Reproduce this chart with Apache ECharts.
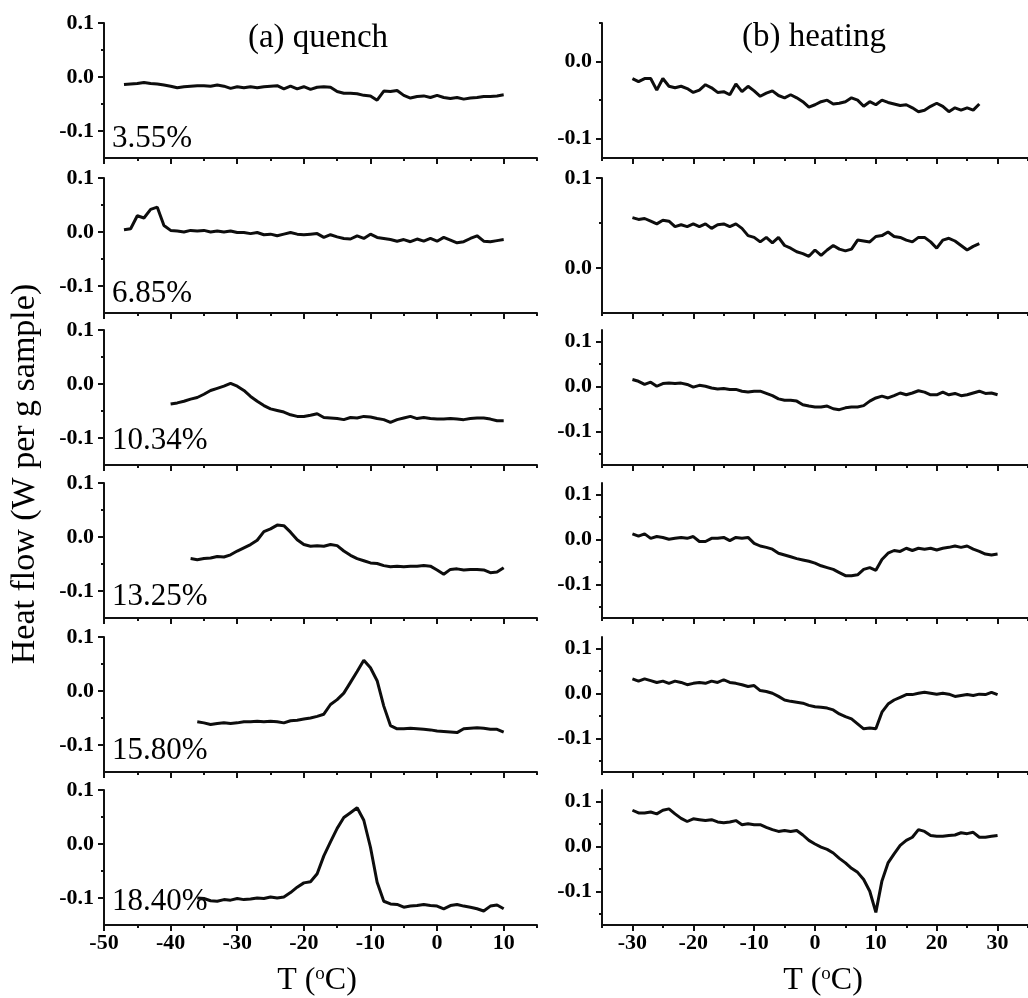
<!DOCTYPE html>
<html><head><meta charset="utf-8">
<script src="https://cdn.jsdelivr.net/npm/echarts@6/dist/echarts.min.js"></script>
<style>html,body{margin:0;padding:0;background:#fff}#c{width:1028px;height:998px}</style>
</head><body><div id="c"></div><script>
// ---------- DATA ----------
const tempQuench = [-47,-46,-45,-44,-43,-42,-41,-40,-39,-38,
  -37,-36,-35,-34,-33,-32,-31,-30,-29,-28,
  -27,-26,-25,-24,-23,-22,-21,-20,-19,-18,
  -17,-16,-15,-14,-13,-12,-11,-10,-9,-8,
  -7,-6,-5,-4,-3,-2,-1,0,1,2,
  3,4,5,6,7,8,9,10];
const tempHeating = [-30,-29,-28,-27,-26,-25,-24,-23,-22,-21,
  -20,-19,-18,-17,-16,-15,-14,-13,-12,-11,
  -10,-9,-8,-7,-6,-5,-4,-3,-2,-1,
  0,1,2,3,4,5,6,7,8,9,
  10,11,12,13,14,15,16,17,18,19,
  20,21,22,23,24,25,26,27,28,29,
  30];

const quench355 = [-0.014,-0.013,-0.012,-0.010,-0.012,-0.013,-0.015,-0.017,-0.020,-0.018,
  -0.017,-0.016,-0.016,-0.017,-0.015,-0.017,-0.021,-0.018,-0.020,-0.018,
  -0.020,-0.018,-0.017,-0.016,-0.022,-0.017,-0.022,-0.018,-0.023,-0.019,
  -0.018,-0.019,-0.027,-0.030,-0.030,-0.031,-0.034,-0.035,-0.043,-0.026,
  -0.027,-0.025,-0.034,-0.039,-0.036,-0.035,-0.038,-0.034,-0.038,-0.040,
  -0.038,-0.041,-0.039,-0.038,-0.036,-0.036,-0.035,-0.033];
const quench685 = [0.004,0.006,0.030,0.026,0.042,0.046,0.012,0.003,0.002,0.000,
  0.003,0.002,0.003,0.000,0.002,0.000,0.002,-0.001,-0.001,-0.003,
  -0.001,-0.005,-0.004,-0.007,-0.004,-0.001,-0.004,-0.005,-0.004,-0.003,
  -0.010,-0.005,-0.009,-0.012,-0.013,-0.007,-0.012,-0.004,-0.010,-0.012,
  -0.014,-0.017,-0.014,-0.018,-0.013,-0.017,-0.012,-0.017,-0.010,-0.015,
  -0.020,-0.018,-0.012,-0.007,-0.017,-0.018,-0.016,-0.014];
const quench1034 = [null,null,null,null,null,null,null,-0.037,-0.035,-0.032,
  -0.028,-0.025,-0.019,-0.012,-0.008,-0.004,0.001,-0.004,-0.012,-0.023,
  -0.032,-0.040,-0.046,-0.049,-0.052,-0.057,-0.060,-0.060,-0.058,-0.055,
  -0.062,-0.063,-0.064,-0.066,-0.062,-0.063,-0.060,-0.061,-0.064,-0.066,
  -0.071,-0.066,-0.063,-0.060,-0.064,-0.062,-0.064,-0.065,-0.065,-0.064,
  -0.065,-0.066,-0.064,-0.063,-0.063,-0.065,-0.068,-0.068];
const quench1325 = [null,null,null,null,null,null,null,null,null,null,
  -0.040,-0.042,-0.040,-0.039,-0.036,-0.037,-0.033,-0.026,-0.020,-0.014,
  -0.006,0.010,0.015,0.022,0.021,0.009,-0.005,-0.014,-0.017,-0.016,
  -0.017,-0.014,-0.016,-0.026,-0.034,-0.040,-0.044,-0.048,-0.049,-0.053,
  -0.055,-0.054,-0.055,-0.054,-0.054,-0.053,-0.054,-0.061,-0.069,-0.060,
  -0.059,-0.061,-0.060,-0.060,-0.061,-0.066,-0.065,-0.057];
const quench1580 = [null,null,null,null,null,null,null,null,null,null,
  null,-0.057,-0.059,-0.062,-0.060,-0.059,-0.060,-0.059,-0.057,-0.057,
  -0.056,-0.057,-0.056,-0.057,-0.059,-0.055,-0.054,-0.052,-0.050,-0.047,
  -0.043,-0.025,-0.016,-0.004,0.016,0.036,0.057,0.043,0.019,-0.028,
  -0.064,-0.070,-0.070,-0.069,-0.070,-0.071,-0.072,-0.074,-0.075,-0.076,
  -0.077,-0.070,-0.069,-0.068,-0.069,-0.071,-0.071,-0.076];
const quench1840 = [null,null,null,null,null,null,null,null,null,null,
  null,-0.100,-0.101,-0.105,-0.106,-0.103,-0.104,-0.101,-0.103,-0.102,
  -0.100,-0.101,-0.098,-0.100,-0.098,-0.090,-0.080,-0.072,-0.070,-0.055,
  -0.022,0.004,0.029,0.049,0.058,0.067,0.044,-0.006,-0.071,-0.106,
  -0.111,-0.112,-0.117,-0.115,-0.114,-0.112,-0.114,-0.115,-0.120,-0.114,
  -0.112,-0.115,-0.117,-0.120,-0.124,-0.115,-0.113,-0.120];

const heating355 = [-0.022,-0.026,-0.022,-0.022,-0.037,-0.022,-0.032,-0.034,-0.032,-0.035,
  -0.040,-0.037,-0.030,-0.034,-0.040,-0.039,-0.043,-0.029,-0.039,-0.032,
  -0.038,-0.045,-0.041,-0.038,-0.044,-0.047,-0.043,-0.047,-0.052,-0.059,
  -0.056,-0.052,-0.050,-0.055,-0.054,-0.052,-0.047,-0.050,-0.058,-0.052,
  -0.056,-0.050,-0.053,-0.055,-0.057,-0.056,-0.060,-0.065,-0.063,-0.058,
  -0.054,-0.058,-0.065,-0.060,-0.063,-0.060,-0.063,-0.055,null,null,
  null];
const heating685 = [0.056,0.054,0.055,0.052,0.049,0.053,0.052,0.046,0.048,0.046,
  0.049,0.046,0.049,0.044,0.048,0.049,0.046,0.049,0.044,0.036,
  0.034,0.029,0.034,0.028,0.034,0.025,0.022,0.018,0.016,0.013,
  0.020,0.014,0.020,0.025,0.021,0.019,0.021,0.031,0.030,0.029,
  0.035,0.036,0.040,0.035,0.034,0.031,0.029,0.034,0.034,0.029,
  0.022,0.031,0.033,0.030,0.025,0.020,0.024,0.027,null,null,
  null];
const heating1034 = [0.015,0.011,0.004,0.009,0.000,0.006,0.007,0.006,0.007,0.004,
  -0.002,0.002,0.000,-0.004,-0.006,-0.005,-0.007,-0.007,-0.011,-0.013,
  -0.011,-0.011,-0.016,-0.021,-0.028,-0.031,-0.031,-0.033,-0.041,-0.044,
  -0.046,-0.046,-0.044,-0.050,-0.052,-0.048,-0.046,-0.046,-0.043,-0.033,
  -0.026,-0.022,-0.026,-0.021,-0.015,-0.019,-0.015,-0.010,-0.013,-0.019,
  -0.019,-0.013,-0.019,-0.016,-0.021,-0.019,-0.015,-0.011,-0.016,-0.015,
  -0.019];
const heating1325 = [0.012,0.007,0.012,0.002,0.006,0.004,0.000,0.002,0.004,0.002,
  0.006,-0.005,-0.005,0.002,0.002,0.004,-0.003,0.004,0.002,0.004,
  -0.009,-0.015,-0.018,-0.022,-0.031,-0.035,-0.039,-0.043,-0.046,-0.049,
  -0.053,-0.059,-0.063,-0.067,-0.074,-0.081,-0.081,-0.079,-0.067,-0.063,
  -0.069,-0.045,-0.031,-0.025,-0.027,-0.020,-0.025,-0.020,-0.022,-0.020,
  -0.024,-0.020,-0.018,-0.015,-0.018,-0.015,-0.022,-0.027,-0.033,-0.035,
  -0.033];
const heating1580 = [0.032,0.027,0.032,0.028,0.024,0.027,0.022,0.027,0.024,0.019,
  0.022,0.024,0.022,0.027,0.024,0.030,0.024,0.022,0.019,0.015,
  0.017,0.006,0.004,0.000,-0.007,-0.015,-0.018,-0.020,-0.022,-0.027,
  -0.030,-0.031,-0.033,-0.037,-0.046,-0.052,-0.057,-0.068,-0.079,-0.077,
  -0.079,-0.042,-0.024,-0.015,-0.009,-0.003,-0.003,0.000,0.002,0.000,
  -0.002,0.000,-0.002,-0.007,-0.005,-0.003,-0.005,-0.002,-0.003,0.002,
  -0.003];
const heating1840 = [0.080,0.074,0.074,0.076,0.072,0.080,0.083,0.072,0.062,0.055,
  0.061,0.059,0.057,0.059,0.054,0.052,0.054,0.057,0.048,0.050,
  0.048,0.048,0.042,0.037,0.033,0.035,0.033,0.035,0.025,0.013,
  0.005,-0.002,-0.007,-0.015,-0.027,-0.037,-0.049,-0.058,-0.074,-0.100,
  -0.147,-0.077,-0.037,-0.017,0.002,0.013,0.020,0.037,0.033,0.024,
  0.022,0.022,0.024,0.025,0.030,0.028,0.031,0.020,0.020,0.022,
  0.024];

const quenchSeries = [quench355, quench685, quench1034, quench1325, quench1580, quench1840];
const heatingSeries = [heating355, heating685, heating1034, heating1325, heating1580, heating1840];
const concentrationLabels = ['3.55%','6.85%','10.34%','13.25%','15.80%','18.40%'];

const quenchXMajor = [-50,-40,-30,-20,-10,0,10];
const quenchXMinor = [-45,-35,-25,-15,-5,5,15];
const heatingXMajor = [-30,-20,-10,0,10,20,30];
const heatingXMinor = [-35,-25,-15,-5,5,15,25,35];

const quenchYRange = [-0.15, 0.1];
const quenchYMajor = [-0.1, 0, 0.1];
const quenchYMinor = [-0.05, 0.05];
const heatingYRanges = [[-0.125,0.05],[-0.05,0.1],[-0.175,0.125],[-0.175,0.125],[-0.175,0.125],[-0.175,0.125]];
const heatingYMajor = [[-0.1,0],[0,0.1],[-0.1,0,0.1],[-0.1,0,0.1],[-0.1,0,0.1],[-0.1,0,0.1]];
const heatingYMinor = [[-0.05,0.05],[0.05],[-0.15,-0.05,0.05],[-0.15,-0.05,0.05],[-0.15,-0.05,0.05],[-0.15,-0.05,0.05]];

// ---------- LAYOUT ----------
const FF = '"Liberation Serif", "DejaVu Serif", serif';
const AX = '#111';
const ROW_TOPS = [23, 178, 330, 483, 637, 790];
const ROW_H = 135;
const COL_Q = {left: 104, width: 433, min: -50, max: 15, major: quenchXMajor, minor: quenchXMinor};
const COL_H = {left: 602, width: 431, min: -35, max: 35, major: heatingXMajor, minor: heatingXMinor};

const grids = [], xAxes = [], yAxes = [], series = [];

function addPanel(col, row, temps, values, yRange, yMajor, yMinor) {
  const gi = grids.length;
  grids.push({left: col.left, width: col.width, top: ROW_TOPS[row], height: ROW_H});
  const showX = row === 5;
  const xi = xAxes.length;
  xAxes.push({
    gridIndex: gi, type: 'value', position: 'bottom', min: col.min, max: col.max,
    axisLine: {show: true, onZero: false, lineStyle: {color: AX, width: 2}},
    axisTick: {show: true, length: 6, customValues: col.major, lineStyle: {color: AX, width: 2}},
    axisLabel: {show: showX, customValues: col.major, margin: 7, fontFamily: FF, fontWeight: 'bold', fontSize: 22, color: '#000'},
    splitLine: {show: false}
  });
  xAxes.push({
    gridIndex: gi, type: 'value', position: 'bottom', min: col.min, max: col.max,
    axisLine: {show: false, onZero: false},
    axisTick: {show: true, length: 3, customValues: col.minor, lineStyle: {color: AX, width: 2}},
    axisLabel: {show: false}, splitLine: {show: false}
  });
  const yi = yAxes.length;
  yAxes.push({
    gridIndex: gi, type: 'value', position: 'left', min: yRange[0], max: yRange[1],
    axisLine: {show: true, onZero: false, lineStyle: {color: AX, width: 2}},
    axisTick: {show: true, length: 6, customValues: yMajor, lineStyle: {color: AX, width: 2}},
    axisLabel: {show: true, customValues: yMajor, margin: 10, fontFamily: FF, fontWeight: 'bold', fontSize: 22, color: '#000',
      formatter: v => v.toFixed(1)},
    splitLine: {show: false}
  });
  yAxes.push({
    gridIndex: gi, type: 'value', position: 'left', min: yRange[0], max: yRange[1],
    axisLine: {show: false, onZero: false},
    axisTick: {show: true, length: 3, customValues: yMinor, lineStyle: {color: AX, width: 2}},
    axisLabel: {show: false}, splitLine: {show: false}
  });
  const data = [];
  temps.forEach((t, i) => { if (values[i] !== null) data.push([t, values[i]]); });
  series.push({
    type: 'line', xAxisIndex: xi, yAxisIndex: yi, data: data,
    showSymbol: false, symbol: 'none', animation: false,
    lineStyle: {color: '#0d0d0d', width: 3}
  });
}

for (let r = 0; r < 6; r++) {
  addPanel(COL_Q, r, tempQuench, quenchSeries[r], quenchYRange, quenchYMajor, quenchYMinor);
  addPanel(COL_H, r, tempHeating, heatingSeries[r], heatingYRanges[r], heatingYMajor[r], heatingYMinor[r]);
}

const labelYs = [139, 294, 441, 597, 751, 902];
const graphics = [
  {type: 'text', x: 318, y: 38, style: {text: '(a) quench', font: '33px ' + FF, fill: '#000', textAlign: 'center', textVerticalAlign: 'middle'}},
  {type: 'text', x: 814, y: 37, style: {text: '(b) heating', font: '33px ' + FF, fill: '#000', textAlign: 'center', textVerticalAlign: 'middle'}},
  {type: 'text', x: 25, y: 474, rotation: Math.PI / 2, style: {text: 'Heat flow (W per g sample)', font: '34px ' + FF, fill: '#000', textAlign: 'center', textVerticalAlign: 'middle'}},
  {type: 'text', x: 317, y: 981, style: {text: 'T ({s|o}C)', font: '32px ' + FF, fill: '#000', textAlign: 'center', textVerticalAlign: 'middle',
    rich: {s: {fontSize: 19, fontFamily: FF, verticalAlign: 'top', fill: '#000'}}}},
  {type: 'text', x: 823, y: 981, style: {text: 'T ({s|o}C)', font: '32px ' + FF, fill: '#000', textAlign: 'center', textVerticalAlign: 'middle',
    rich: {s: {fontSize: 19, fontFamily: FF, verticalAlign: 'top', fill: '#000'}}}}
];
concentrationLabels.forEach((lab, r) => {
  graphics.push({type: 'text', x: 112, y: labelYs[r], style: {text: lab, font: '31px ' + FF, fill: '#000', textAlign: 'left', textVerticalAlign: 'middle'}});
});

const chart = echarts.init(document.getElementById('c'), null, {renderer: 'canvas'});
chart.setOption({
  backgroundColor: '#fff',
  animation: false,
  grid: grids, xAxis: xAxes, yAxis: yAxes, series: series,
  graphic: graphics
});
</script></body></html>
